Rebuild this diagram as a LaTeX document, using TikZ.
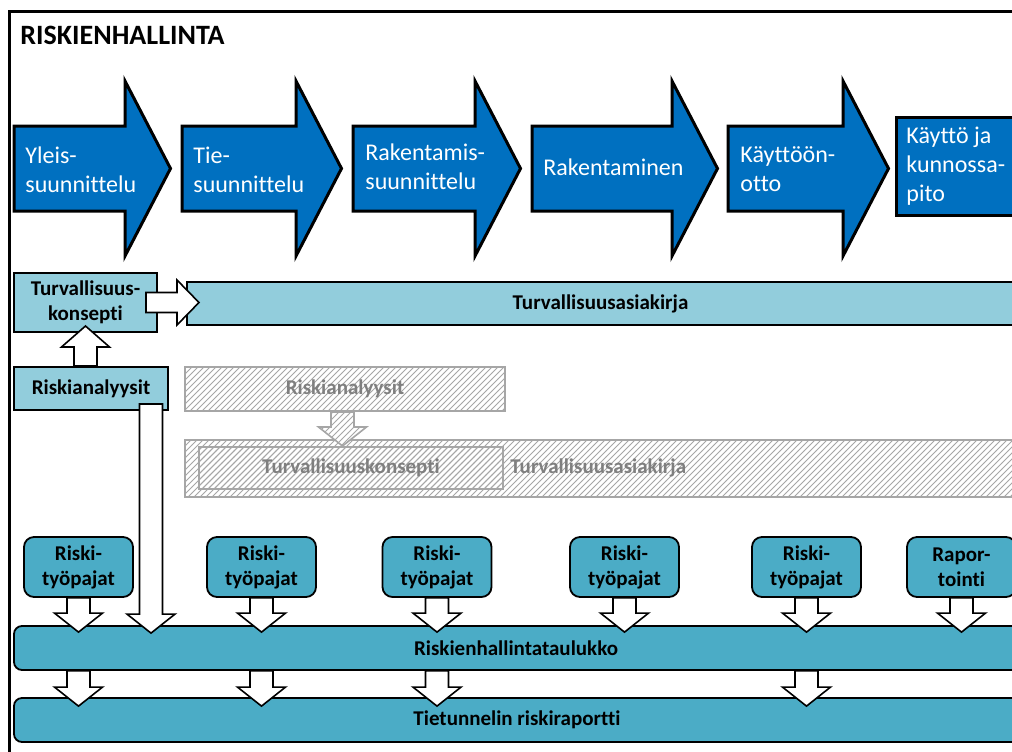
\documentclass[tikz,border=0pt]{standalone}
\usepackage{fontspec}
\setmainfont{Carlito}[Ligatures=NoCommon]
\usetikzlibrary{calc,patterns}

\definecolor{phaseblue}{HTML}{0070C0}
\definecolor{docblue}{HTML}{92CDDC}
\definecolor{tableblue}{HTML}{4BACC6}
\definecolor{hatchgray}{HTML}{A6A6A6}
\definecolor{textgray}{HTML}{7F7F7F}

\tikzset{
  phasearrow/.style={draw=black, line width=1.5pt, fill=phaseblue, line join=miter},
  phasetext/.style={text=white, anchor=west, align=left, inner sep=0pt,
    font=\fontsize{12}{14.5}\selectfont},
  labelfont/.style={font=\bfseries\fontsize{10.5}{12.5}\selectfont},
  docbox/.style={draw=black, line width=1pt, fill=docblue, labelfont, align=center, inner sep=0pt},
  workbox/.style={draw=black, line width=0.9pt, fill=tableblue, rounded corners=5pt,
    minimum width=54.5pt, minimum height=30pt, labelfont, align=center, inner sep=0pt},
  tablebar/.style={draw=black, line width=0.9pt, fill=tableblue, rounded corners=4pt,
    minimum width=508pt, minimum height=22pt, labelfont, inner sep=0pt},
  hatchbox/.style={draw=hatchgray, line width=1pt, pattern=north east lines, pattern color=hatchgray,
    text=textgray, labelfont, inner sep=0pt},
  blockarrow/.style={draw=black, line width=0.8pt, fill=white, line join=miter},
  hatcharrow/.style={draw=hatchgray, line width=0.8pt, preaction={fill=white},
    pattern=north east lines, pattern color=hatchgray},
}

% chevron of one phase: body left x, head x
\newcommand{\phase}[2]{%
  \draw[phasearrow] (#1,126) -- (#2,126) -- (#2,81) -- ({#2+45.5},168.5)
    -- (#2,256) -- (#2,211) -- (#1,211) -- cycle;}

% white block arrows between nodes
\newcommand{\downblock}[3][blockarrow]{%
  \draw[#1] let \p1=#2, \p2=#3 in
    (\x1-5.75pt,\y1) -- (\x1-5.75pt,\y2+9.5pt) -- (\x1-12pt,\y2+9.5pt) -- (\x1,\y2)
    -- (\x1+12pt,\y2+9.5pt) -- (\x1+5.75pt,\y2+9.5pt) -- (\x1+5.75pt,\y1) -- cycle;}
\newcommand{\upblock}[2]{%
  \draw[blockarrow] let \p1=#1, \p2=#2 in
    (\x1-5.75pt,\y1) -- (\x1-5.75pt,\y2-10.5pt) -- (\x1-12pt,\y2-10.5pt) -- (\x1,\y2)
    -- (\x1+12pt,\y2-10.5pt) -- (\x1+5.75pt,\y2-10.5pt) -- (\x1+5.75pt,\y1) -- cycle;}
\newcommand{\rightblock}[2]{%
  \draw[blockarrow] let \p1=#1, \p2=#2 in
    (\x1,\y1+5pt) -- (\x2-11pt,\y1+5pt) -- (\x2-11pt,\y1+11.25pt) -- (\x2,\y1)
    -- (\x2-11pt,\y1-11.25pt) -- (\x2-11pt,\y1-5pt) -- (\x1,\y1-5pt) -- cycle;}

\begin{document}
\begin{tikzpicture}[x=0.5pt, y=-0.5pt]
    \useasboundingbox (0,0) rectangle (1012,751);
    \clip (0,0) rectangle (1012,751);

    % frame and title
    \draw[line width=1.5pt] (9,770) -- (9,11) -- (1030,11);
    \node[anchor=west, inner sep=0pt, font=\bfseries\fontsize{14}{17}\selectfont] (title) at (20,35) {RISKIENHALLINTA};

    % phases
    \phase{14}{125}
    \phase{182}{296}
    \phase{353}{475}
    \phase{532}{672}
    \phase{728}{843}
    \draw[phasearrow] (896,117) rectangle (1030,215);
    \node[phasetext] (yleis) at (25,170) {Yleis-\\suunnittelu};
    \node[phasetext] (tie) at (193,170) {Tie-\\suunnittelu};
    \node[phasetext] (rakss) at (365,167) {Rakentamis-\\suunnittelu};
    \node[phasetext] (rak) at (543,167) {Rakentaminen};
    \node[phasetext] (kayttoon) at (740,169) {Käyttöön-\\otto};
    \node[phasetext] (kaytto) at (906,166) {Käyttö ja\\kunnossa-\\pito};

    % documents
    \node[docbox, minimum width=71.5pt, minimum height=29.5pt] (tkonsepti) at (85.5,302.5) {Turvallisuus-\\konsepti};
    \node[docbox, minimum width=421.5pt, minimum height=21.5pt,
      label={[labelfont, xshift=-4pt]center:Turvallisuusasiakirja}] (tasiakirja) at (608.5,303.5) {};
    \node[docbox, minimum width=77pt, minimum height=21.5pt] (riskian) at (91,388.5) {Riskianalyysit};
    \rightblock{([xshift=-6pt]tkonsepti.east)}{([xshift=6.5pt]tasiakirja.west)}
    \upblock{(tkonsepti.south |- riskian.north)}{([yshift=3.5pt]tkonsepti.south)}

    % hatched alternative
    \node[hatchbox, minimum width=160pt, minimum height=22pt] (riskian2) at (345,389) {Riskianalyysit};
    \node[hatchbox, minimum width=422.5pt, minimum height=28.5pt] (tasiakirja2) at (607.5,468.5) {};
    \node[hatchbox, minimum width=152pt, minimum height=21pt] (tkonsepti2) at (351,468) {Turvallisuuskonsepti};
    \node[anchor=west, inner sep=0pt, text=textgray, labelfont] (tdoc2) at (510,468) {Turvallisuusasiakirja};
    \downblock[hatcharrow]{([xshift=-1.25pt]riskian2.south)}{($([xshift=-1.25pt]riskian2.south |- tasiakirja2.north)+(0,-3.5pt)$)}

    % workshops and tables
    \node[workbox] (w1) at (78.5,567) {Riski-\\työpajat};
    \node[workbox] (w2) at (261.5,567) {Riski-\\työpajat};
    \node[workbox] (w3) at (437,567) {Riski-\\työpajat};
    \node[workbox] (w4) at (624.5,567) {Riski-\\työpajat};
    \node[workbox] (w5) at (806.5,567) {Riski-\\työpajat};
    \node[workbox] (w6) at (961.5,567) {Rapor-\\tointi};
    \node[tablebar, label={[labelfont, xshift=-3pt]center:Riskienhallintataulukko}] (taulukko) at (522,648) {};
    \node[tablebar, label={[labelfont, xshift=-2.5pt]center:Tietunnelin riskiraportti}] (raportti) at (522,720) {};

    \downblock{(w1.south)}{($(w1 |- taulukko.north)+(0,-3.5pt)$)}
    \downblock{(w2.south)}{($(w2 |- taulukko.north)+(0,-3.5pt)$)}
    \downblock{(w3.south)}{($(w3 |- taulukko.north)+(0,-3.5pt)$)}
    \downblock{(w4.south)}{($(w4 |- taulukko.north)+(0,-3.5pt)$)}
    \downblock{(w5.south)}{($(w5 |- taulukko.north)+(0,-3.5pt)$)}
    \downblock{(w6.south)}{($(w6 |- taulukko.north)+(0,-3.5pt)$)}
    \coordinate (lstart) at ([shift={(-9pt,3.5pt)}]riskian.south east);
    \downblock{(lstart)}{($(lstart |- taulukko.north)+(0,-4pt)$)}

    \downblock{(w1 |- taulukko.south)}{($(w1 |- raportti.north)+(0,-4.5pt)$)}
    \downblock{(w2 |- taulukko.south)}{($(w2 |- raportti.north)+(0,-4.5pt)$)}
    \downblock{(w3 |- taulukko.south)}{($(w3 |- raportti.north)+(0,-4.5pt)$)}
    \downblock{(w5 |- taulukko.south)}{($(w5 |- raportti.north)+(0,-4.5pt)$)}
\end{tikzpicture}
\end{document}
